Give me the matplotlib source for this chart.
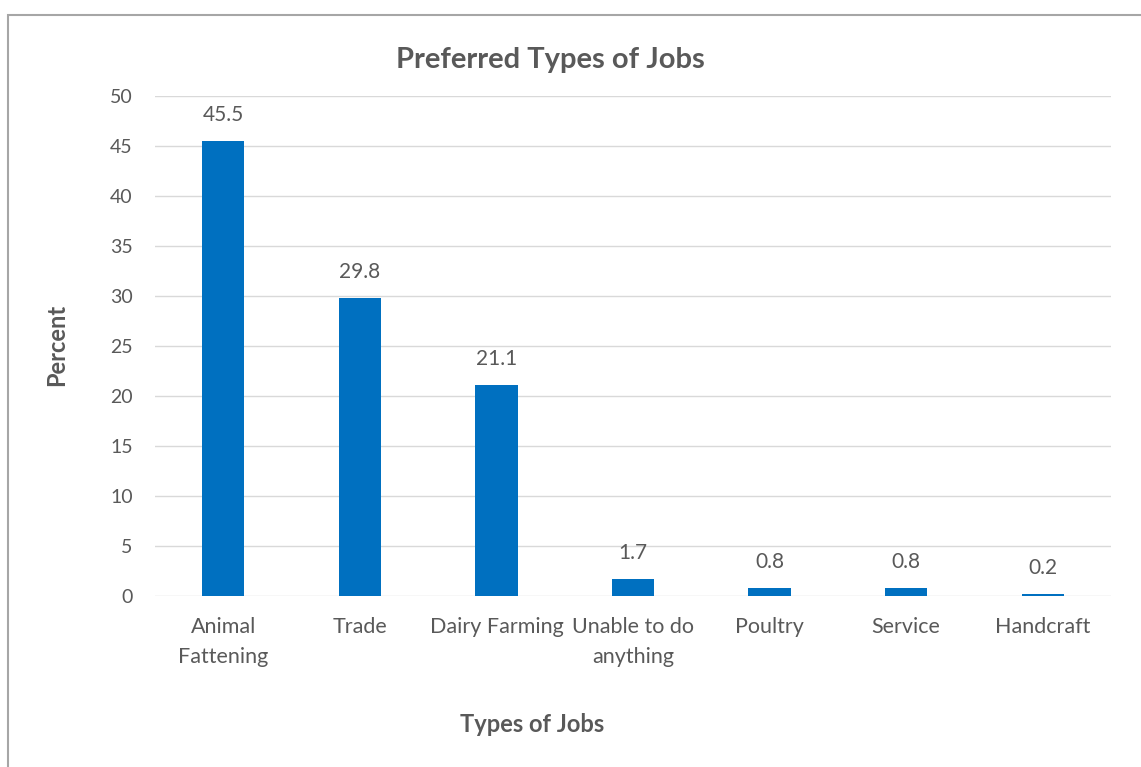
import matplotlib.pyplot as plt
from matplotlib.patches import Rectangle

jobs = ["Animal\nFattening", "Trade", "Dairy Farming", "Unable to do\nanything",
        "Poultry", "Service", "Handcraft"]
percent = [45.5, 29.8, 21.1, 1.7, 0.8, 0.8, 0.2]

plt.rcParams['font.family'] = ['Lato', 'DejaVu Sans']
grey = '#595959'

fig = plt.figure(figsize=(11.41, 7.67), dpi=100)
ax = fig.add_axes([0.1358, 0.2229, 0.8379, 0.6519])

x = range(len(jobs))
bars = ax.bar(x, percent, width=0.31, color='#0070C0', zorder=3)
for xi, v in zip(x, percent):
    ax.text(xi, v + 2.6, f"{v}", ha='center', va='center', fontsize=15, color=grey)

ax.set_xlim(-0.5, len(jobs) - 0.5)
ax.set_ylim(0, 50)
ax.set_yticks(range(0, 51, 5))
ax.set_xticks(list(x))
ax.set_xticklabels(jobs, fontsize=15.5, color=grey, linespacing=1.65)
ax.tick_params(axis='y', labelsize=14, labelcolor=grey, length=0, pad=16)
ax.tick_params(axis='x', length=0, pad=15)
ax.grid(axis='y', color='#D9D9D9', linewidth=1, zorder=0)
for s in ax.spines.values():
    s.set_visible(False)

fig.text(550 / 1141, 1 - 60 / 767, "Preferred Types of Jobs", fontsize=21,
         fontweight='bold', color=grey, ha='center', va='center')
fig.text(532 / 1141, 1 - 725 / 767, "Types of Jobs", fontsize=17,
         fontweight='bold', color=grey, ha='center', va='center')
fig.text(57 / 1141, 1 - 345 / 767, "Percent", fontsize=17, fontweight='bold',
         color=grey, ha='center', va='center', rotation=90)

# outer chart border
fig.patches.append(Rectangle((0.007, -0.1), 1.2, 1.0804, transform=fig.transFigure,
                             fill=False, edgecolor='#A6A6A6', linewidth=1.5))

fig.savefig("out.png", dpi=100)
